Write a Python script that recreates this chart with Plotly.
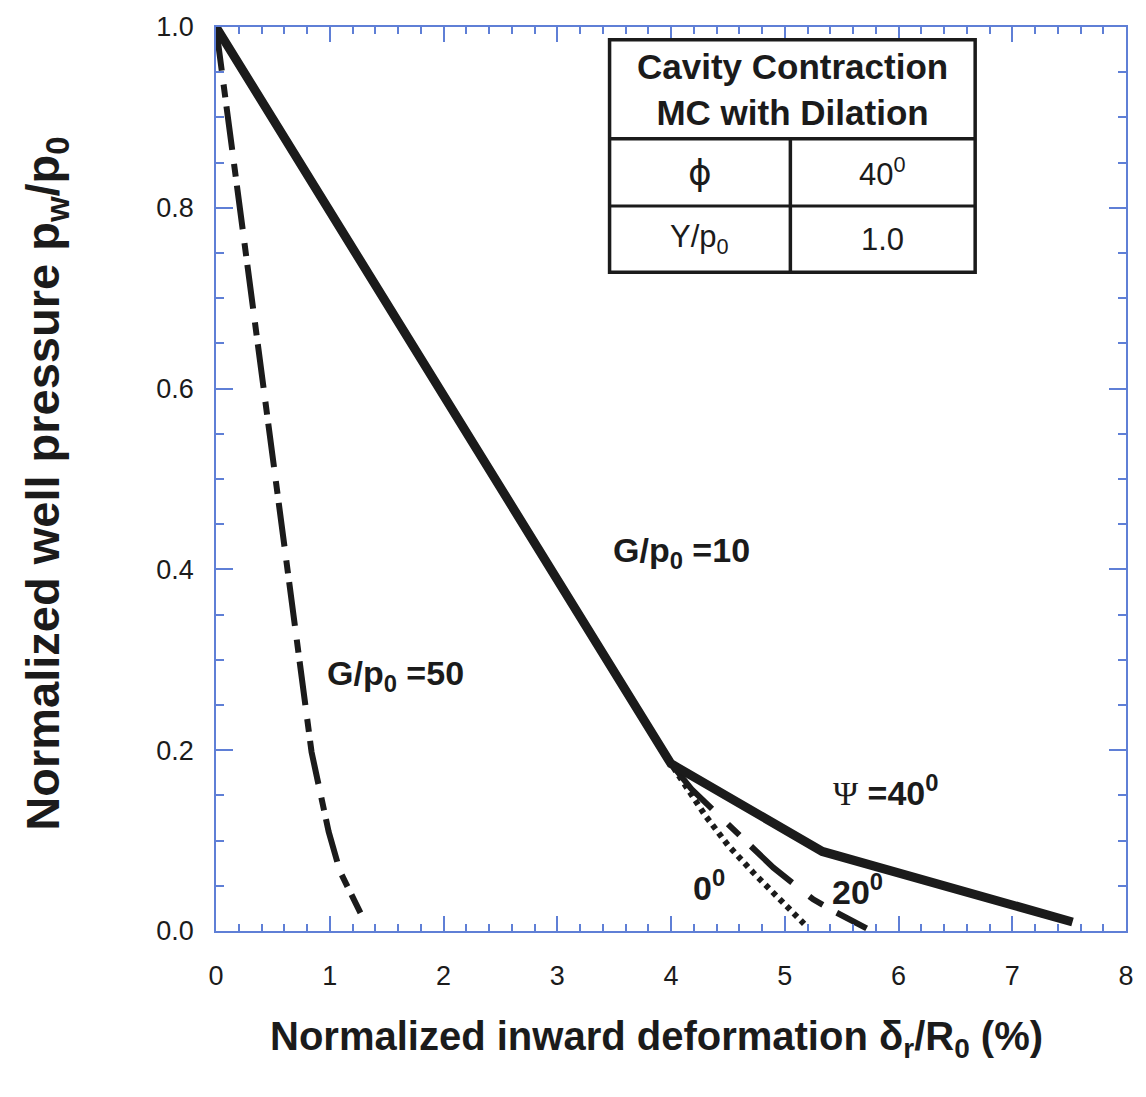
import plotly.graph_objects as go

# ---- curves: normalized well pressure vs. normalized inward deformation ----
# G/p0 = 10, dilation angle 40 deg (solid)
x_psi40 = [0.0, 4.0, 5.33, 7.53]
y_psi40 = [1.0, 0.185, 0.088, 0.01]

# G/p0 = 10, dilation angle 20 deg (dashed)
x_psi20 = [0.0, 4.0, 4.18, 4.54, 4.9, 5.25, 5.43, 5.72]
y_psi20 = [1.0, 0.185, 0.157, 0.113, 0.07, 0.035, 0.022, 0.003]

# G/p0 = 10, dilation angle 0 deg (dotted)
x_psi0 = [0.0, 4.0, 4.3, 4.5, 4.72, 4.92, 5.1, 5.17]
y_psi0 = [1.0, 0.185, 0.128, 0.095, 0.065, 0.04, 0.018, 0.008]

# G/p0 = 50 (long dash - short dash)
x_g50 = [0.0, 0.14, 0.33, 0.63, 0.75, 0.84, 0.99, 1.09, 1.27]
y_g50 = [1.0, 0.866, 0.694, 0.40, 0.286, 0.198, 0.11, 0.066, 0.02]

x_ticks = [0, 1, 2, 3, 4, 5, 6, 7, 8]
x_ticktext = ["0", "1", "2", "3", "4", "5", "6", "7", "8"]
y_ticks = [0.0, 0.2, 0.4, 0.6, 0.8, 1.0]
y_ticktext = ["0.0", "0.2", "0.4", "0.6", "0.8", "1.0"]

table_header = ["Cavity Contraction", "MC with Dilation"]
table_rows = [["\u03d5", "40<sup>0</sup>"], ["Y/p<sub>0</sub>", "1.0"]]

SANS = "Liberation Sans, Arial, sans-serif"
AXIS_BLUE = "#5f7fd6"
INK = "#1b1b1b"

fig = go.Figure()

fig.add_trace(go.Scatter(x=x_psi0, y=y_psi0, mode="lines",
                         line=dict(color=INK, width=6, dash="5px,5px")))
fig.add_trace(go.Scatter(x=x_psi20, y=y_psi20, mode="lines",
                         line=dict(color=INK, width=6, dash="55px,22px,16px,16px")))
fig.add_trace(go.Scatter(x=x_g50, y=y_g50, mode="lines",
                         line=dict(color=INK, width=6, dash="44px,14px,13px,9px")))
fig.add_trace(go.Scatter(x=x_psi40, y=y_psi40, mode="lines",
                         line=dict(color=INK, width=9)))

fig.update_layout(
    width=1146, height=1097,
    margin=dict(l=216, r=19, t=17, b=166),
    paper_bgcolor="white", plot_bgcolor="white",
    showlegend=False,
)

common_axis = dict(
    showline=True, linecolor=AXIS_BLUE, linewidth=1.5, mirror="ticks",
    ticks="inside", tickcolor=AXIS_BLUE, tickwidth=1.5,
    showgrid=False, zeroline=False,
    tickfont=dict(family=SANS, size=27, color=INK),
)

fig.update_xaxes(
    range=[0, 8], tickmode="array", tickvals=x_ticks, ticktext=x_ticktext,
    ticklen=15, ticklabelstandoff=20,
    minor=dict(dtick=0.2, ticks="inside", ticklen=7, tickcolor=AXIS_BLUE, tickwidth=1.5),
    **common_axis,
)
fig.update_yaxes(
    range=[0, 1], tickmode="array", tickvals=y_ticks, ticktext=y_ticktext,
    ticklen=17, ticklabelstandoff=15,
    minor=dict(dtick=0.05, ticks="inside", ticklen=8, tickcolor=AXIS_BLUE, tickwidth=1.5),
    **common_axis,
)

# axis titles
fig.add_annotation(
    text="<b>Normalized inward deformation \u03b4<sub>r</sub>/R<sub>0</sub> (%)</b>",
    xref="paper", yref="paper", x=0.484, y=-0.119, showarrow=False,
    xanchor="center", yanchor="middle",
    font=dict(family=SANS, size=40, color=INK),
)
fig.add_annotation(
    text="<b>Normalized well pressure p<sub>w</sub>/p<sub>0</sub></b>",
    xref="paper", yref="paper", x=-0.1877, y=0.495, showarrow=False,
    xanchor="center", yanchor="middle", textangle=-90,
    font=dict(family=SANS, size=47, color=INK),
)

# curve labels
labels = [
    ("<b>G/p<sub>0</sub> =10</b>", 4.09, 0.419),
    ("<b>G/p<sub>0</sub> =50</b>", 1.58, 0.283),
    ("<span style=\"font-family:'Liberation Serif'\">\u03a8</span><b> =40<sup>0</sup></b>", 5.89, 0.155),
    ("<b>0<sup>0</sup></b>", 4.33, 0.05),
    ("<b>20<sup>0</sup></b>", 5.64, 0.046),
]
for txt, lx, ly in labels:
    fig.add_annotation(text=txt, x=lx, y=ly, xref="x", yref="y", showarrow=False,
                       xanchor="center", yanchor="middle",
                       font=dict(family=SANS, size=34, color=INK))

# parameter table (paper coordinates)
def px_to_paper_x(px):
    return (px - 216) / 911

def px_to_paper_y(py):
    return (931 - py) / 914

t_left, t_right, t_top, t_bottom = 610, 976, 30, 265
t_head, t_row, t_col = 130, 198, 791

fig.add_shape(type="rect", xref="paper", yref="paper",
              x0=px_to_paper_x(t_left), x1=px_to_paper_x(t_right),
              y0=px_to_paper_y(t_bottom), y1=px_to_paper_y(t_top),
              line=dict(color=INK, width=3.5), fillcolor="white", layer="above")
fig.add_shape(type="line", xref="paper", yref="paper",
              x0=px_to_paper_x(t_left), x1=px_to_paper_x(t_right),
              y0=px_to_paper_y(t_head), y1=px_to_paper_y(t_head),
              line=dict(color=INK, width=3.5), layer="above")
fig.add_shape(type="line", xref="paper", yref="paper",
              x0=px_to_paper_x(t_left), x1=px_to_paper_x(t_right),
              y0=px_to_paper_y(t_row), y1=px_to_paper_y(t_row),
              line=dict(color=INK, width=3), layer="above")
fig.add_shape(type="line", xref="paper", yref="paper",
              x0=px_to_paper_x(t_col), x1=px_to_paper_x(t_col),
              y0=px_to_paper_y(t_bottom), y1=px_to_paper_y(t_head),
              line=dict(color=INK, width=3.5), layer="above")

fig.add_annotation(text="<b>" + "<br>".join(table_header) + "</b>",
                   xref="paper", yref="paper",
                   x=px_to_paper_x((t_left + t_right) / 2),
                   y=px_to_paper_y((t_top + t_head) / 2),
                   showarrow=False, xanchor="center", yanchor="middle",
                   font=dict(family=SANS, size=35, color=INK))
row_centers = [(t_head + t_row) / 2, (t_row + t_bottom) / 2]
col_centers = [(t_left + t_col) / 2, (t_col + t_right) / 2]
for r, row in enumerate(table_rows):
    for c, cell in enumerate(row):
        fam = "DejaVu Sans, " + SANS if c == 0 and r == 0 else SANS
        size = 36 if c == 0 and r == 0 else 31
        fig.add_annotation(text=cell, xref="paper", yref="paper",
                           x=px_to_paper_x(col_centers[c]),
                           y=px_to_paper_y(row_centers[r]),
                           showarrow=False, xanchor="center", yanchor="middle",
                           font=dict(family=fam, size=size, color=INK))

fig.write_html("out.html")
